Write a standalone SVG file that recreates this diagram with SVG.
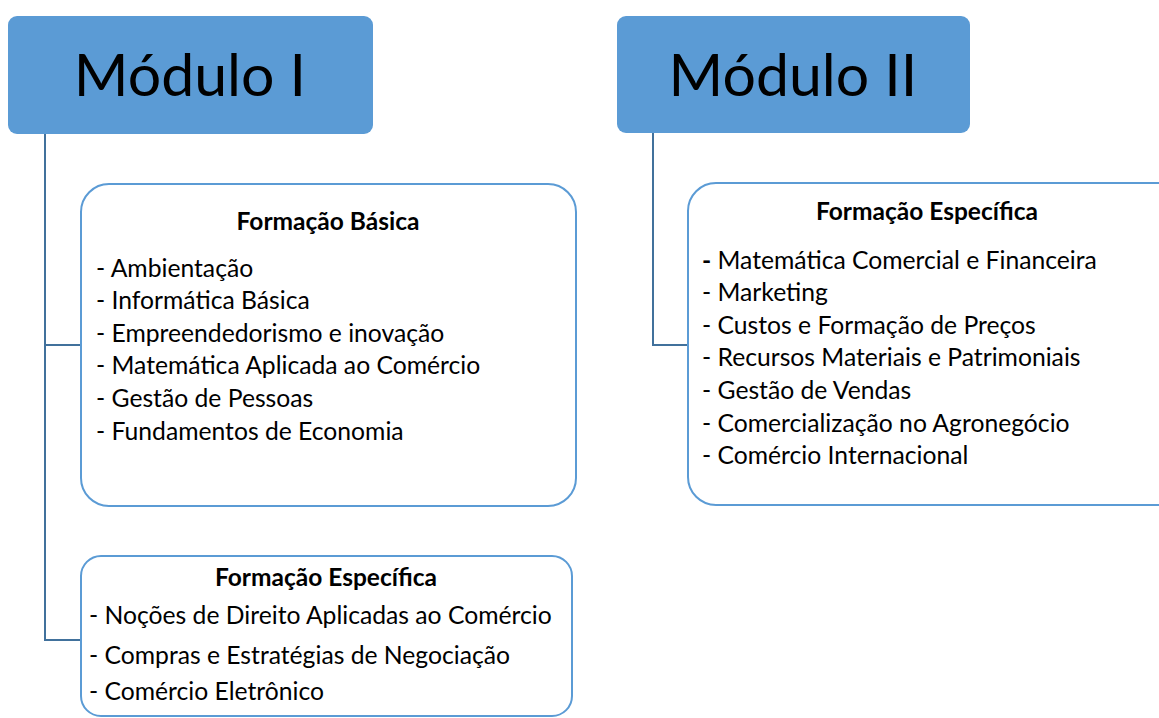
<svg xmlns="http://www.w3.org/2000/svg" width="1159" height="718" viewBox="0 0 1159 718">
<style>
.mod{fill:#5B9BD5;}
.box{fill:#FFFFFF;stroke:#5B9BD5;stroke-width:2;}
.conn{fill:none;stroke:#41719C;stroke-width:2;}
text{font-family:Lato,"Liberation Sans",sans-serif;fill:#000;}
.mt{font-size:59px;text-anchor:middle;}
.h{font-size:24.5px;font-weight:bold;text-anchor:middle;}
.it{font-size:24.7px;}
</style>
<rect width="1159" height="718" fill="#FFFFFF"/>
<g id="connectors">
<path class="conn" d="M45,134 V640 H81 M45,345 H81"/>
<path class="conn" d="M653,133 V345 H688"/>
</g>
<g id="modulo1">
<rect class="mod" x="8" y="16" width="365" height="118" rx="9"/>
<text class="mt" x="190" y="96">Módulo I</text>
</g>
<g id="modulo2">
<rect class="mod" x="617" y="16" width="353" height="117" rx="9"/>
<text class="mt" x="793" y="96">Módulo II</text>
</g>
<g id="formacao-basica">
<rect class="box" x="81" y="184" width="495" height="322" rx="28"/>
<text class="h" x="328" y="230">Formação Básica</text>
<text class="it" x="96" y="277">- Ambientação</text>
<text class="it" x="96" y="309">- Informática Básica</text>
<text class="it" x="96" y="342">- Empreendedorismo e inovação</text>
<text class="it" x="96" y="374">- Matemática Aplicada ao Comércio</text>
<text class="it" x="96" y="407">- Gestão de Pessoas</text>
<text class="it" x="96" y="440">- Fundamentos de Economia</text>
</g>
<g id="formacao-especifica-1">
<rect class="box" x="81" y="556" width="491" height="160" rx="20"/>
<text class="h" x="326" y="586">Formação Específica</text>
<text class="it" x="89" y="624">- Noções de Direito Aplicadas ao Comércio</text>
<text class="it" x="89" y="664">- Compras e Estratégias de Negociação</text>
<text class="it" x="89" y="700">- Comércio Eletrônico</text>
</g>
<g id="formacao-especifica-2">
<rect class="box" x="688" y="183" width="500" height="322" rx="28"/>
<text class="h" x="927" y="220">Formação Específica</text>
<text class="it" x="702" y="269"><tspan font-weight="bold">-</tspan> Matemática Comercial e Financeira</text>
<text class="it" x="702" y="301">- Marketing</text>
<text class="it" x="702" y="334">- Custos e Formação de Preços</text>
<text class="it" x="702" y="366">- Recursos Materiais e Patrimoniais</text>
<text class="it" x="702" y="399">- Gestão de Vendas</text>
<text class="it" x="702" y="432">- Comercialização no Agronegócio</text>
<text class="it" x="702" y="464">- Comércio Internacional</text>
</g>
</svg>
